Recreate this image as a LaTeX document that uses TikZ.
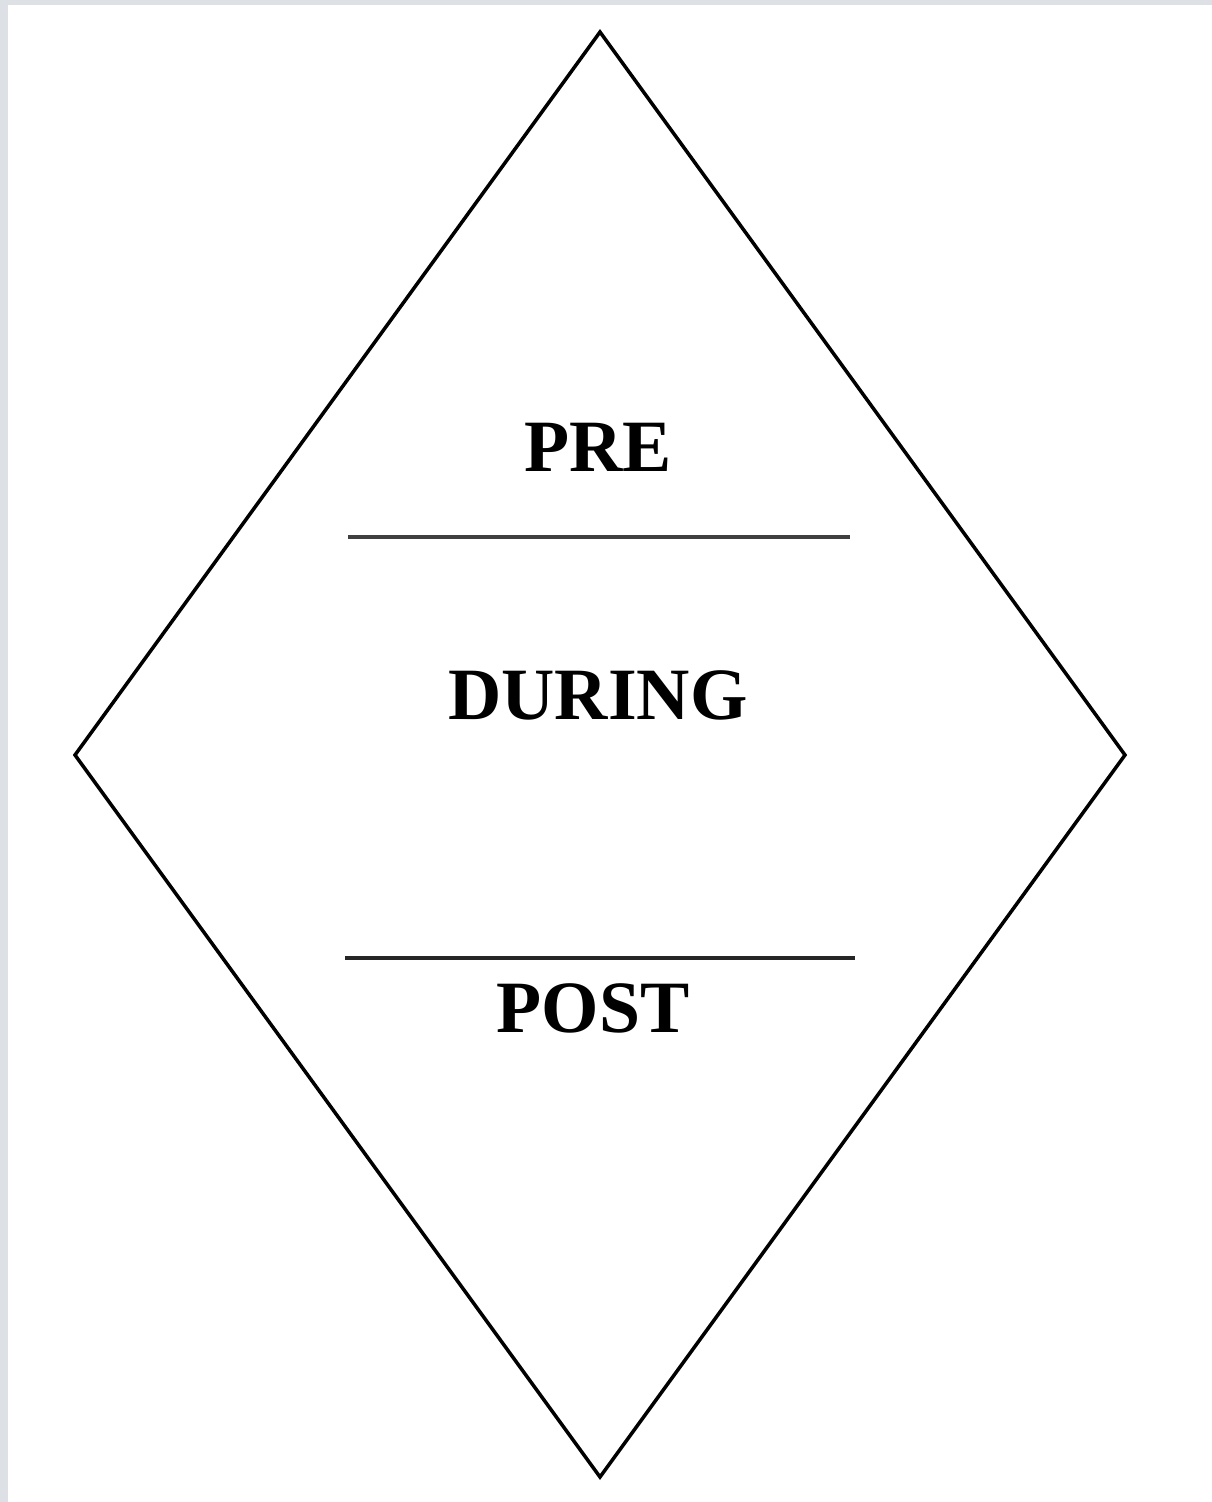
\documentclass[tikz,border=0pt]{standalone}
\usepackage{fontspec}
\setmainfont{Liberation Serif}
\usetikzlibrary{positioning}

\begin{document}
\begin{tikzpicture}[
  x=0.02cm, y=-0.02cm,
  phase/.style={font=\fontsize{42}{46}\selectfont\bfseries, inner sep=0pt,
    anchor=base},
  divider/.style={line width=2pt, black!75},
  edge/.style={line width=2pt, line join=miter}
]
% page with grey margin
\definecolor{margin}{RGB}{221,224,228}
\fill[margin] (0,0) rectangle (1212,1502);
\fill[white] (8,5) rectangle (1212,1502);
\useasboundingbox (0,0) rectangle (1212,1502);

% diamond corners
\coordinate (top) at (600,32);
\coordinate (left) at (75,755);
\coordinate (right) at (1125,755);
\coordinate (bottom) at (600,1477);
\draw[edge] (top) -- (right) -- (bottom) -- (left) -- cycle;

% phases
\node[phase] (pre) at (598,471) {PRE};
\node[phase] (during) at (598,719) {DURING};
\node[phase] (post) at (593,1032) {POST};

% dividers
\coordinate (d1l) at (348,537);
\coordinate (d1r) at (850,537);
\coordinate (d2l) at (345,958);
\coordinate (d2r) at (855,958);
\draw[divider] (d1l) -- (d1r);
\draw[divider, black!85] (d2l) -- (d2r);

\end{tikzpicture}
\end{document}
